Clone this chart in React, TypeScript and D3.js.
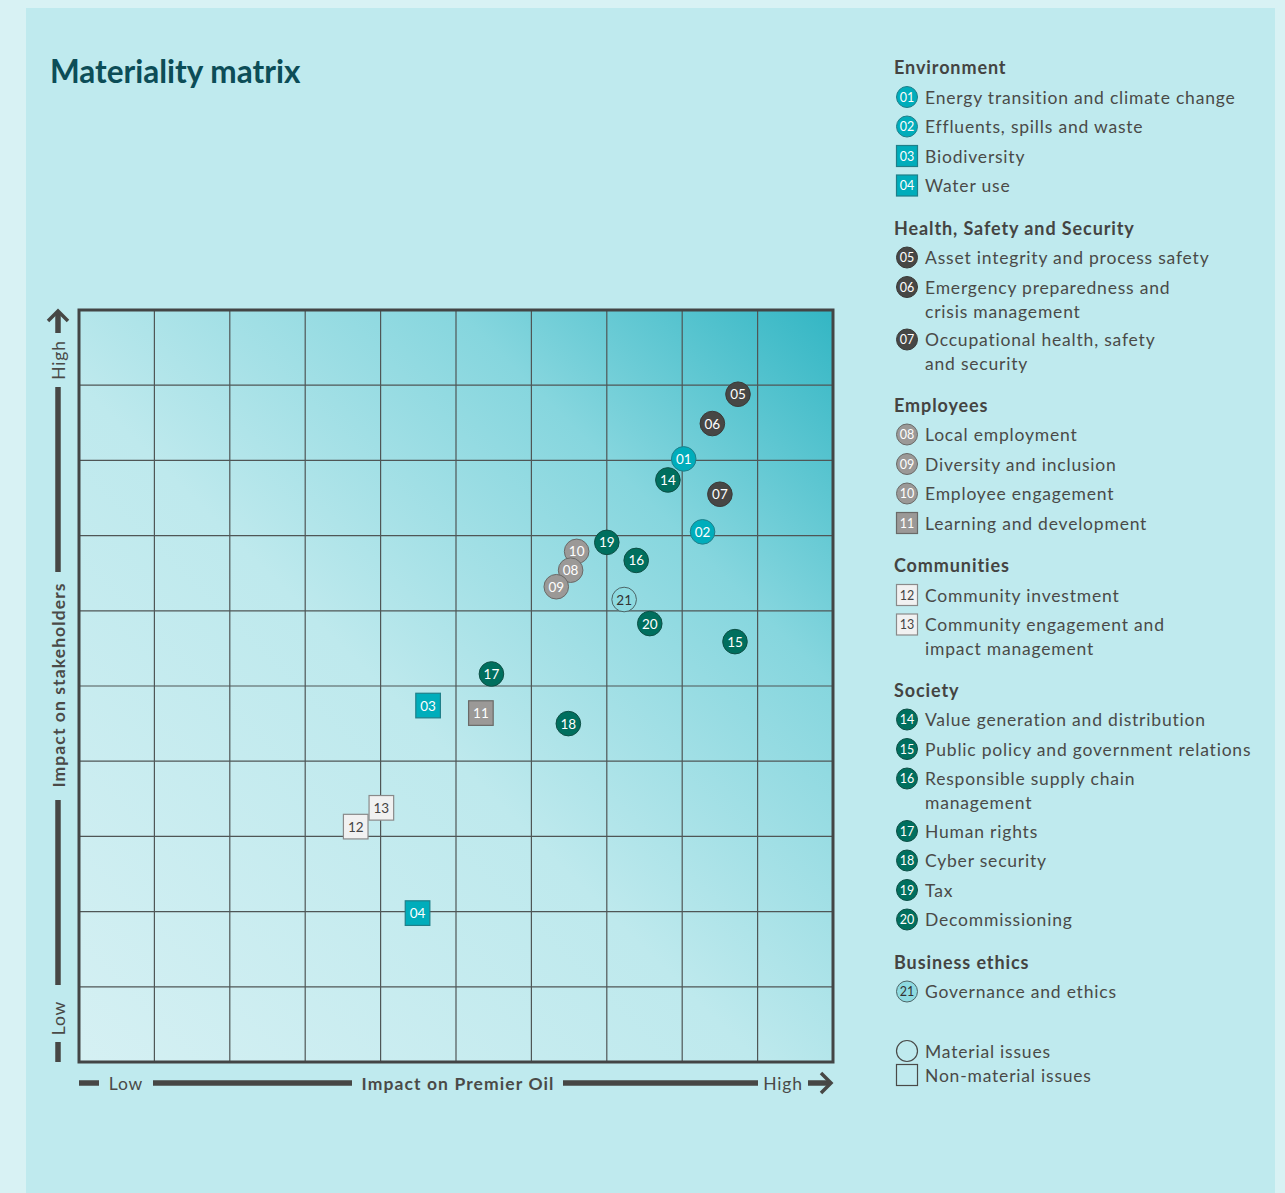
import React, { useEffect, useRef } from "react";
import * as d3 from "d3";

// legend groups
const groupNames = [
  "Environment",
  "Health, Safety and Security",
  "Employees",
  "Communities",
  "Society",
  "Business ethics",
];

const issueIds = [
  "01", "02", "03", "04", "05", "06", "07", "08", "09", "10", "11",
  "12", "13", "14", "15", "16", "17", "18", "19", "20", "21",
];

const issueLabels = [
  ["Energy transition and climate change"],
  ["Effluents, spills and waste"],
  ["Biodiversity"],
  ["Water use"],
  ["Asset integrity and process safety"],
  ["Emergency preparedness and", "crisis management"],
  ["Occupational health, safety", "and security"],
  ["Local employment"],
  ["Diversity and inclusion"],
  ["Employee engagement"],
  ["Learning and development"],
  ["Community investment"],
  ["Community engagement and", "impact management"],
  ["Value generation and distribution"],
  ["Public policy and government relations"],
  ["Responsible supply chain", "management"],
  ["Human rights"],
  ["Cyber security"],
  ["Tax"],
  ["Decommissioning"],
  ["Governance and ethics"],
];

const issueGroup = [0, 0, 0, 0, 1, 1, 1, 2, 2, 2, 2, 3, 3, 4, 4, 4, 4, 4, 4, 4, 5];

// true = material issue (circle), false = non-material (square)
const isMaterial = [
  true, true, false, false, true, true, true, true, true, true, false,
  false, false, true, true, true, true, true, true, true, true,
];

// impact on Premier Oil (x) and on stakeholders (y), 0-10 grid units
const impactPremier = [
  8.02, 8.27, 4.63, 4.49, 8.74, 8.4, 8.5, 6.52, 6.33, 6.6, 5.33,
  3.67, 4.01, 7.81, 8.7, 7.39, 5.47, 6.49, 7.0, 7.57, 7.23,
];
const impactStakeholders = [
  8.02, 7.05, 4.74, 1.98, 8.88, 8.49, 7.55, 6.54, 6.32, 6.79, 4.64,
  3.13, 3.38, 7.74, 5.59, 6.67, 5.16, 4.5, 6.91, 5.83, 6.15,
];

const gridTicks = d3.range(0, 11);

const groupStyle = [
  { fill: "#00adbb", stroke: "#1f7f89", text: "#ffffff" },
  { fill: "#474745", stroke: "#3a3a38", text: "#ffffff" },
  { fill: "#9b9997", stroke: "#6a6a68", text: "#ffffff" },
  { fill: "#f1f1f1", stroke: "#8a8a8a", text: "#444444" },
  { fill: "#006f5e", stroke: "#0d4f45", text: "#ffffff" },
  { fill: "#8edbe1", stroke: "#4c6466", text: "#333333" },
];

const FONT = "Lato, 'Open Sans', sans-serif";

export default function App() {
  const svgRef = useRef<SVGSVGElement | null>(null);

  useEffect(() => {
    const svg = d3.select(svgRef.current);
    svg.selectAll("*").remove();

    const W = 1285;
    const H = 1193;
    const plot = { left: 79, right: 833, top: 310, bottom: 1062 };

    // backgrounds
    svg.append("rect").attr("width", W).attr("height", H).attr("fill", "#d8f2f4");
    svg
      .append("rect")
      .attr("x", 26)
      .attr("y", 8)
      .attr("width", 1249)
      .attr("height", H - 8)
      .attr("fill", "#bfeaee");

    // title
    svg
      .append("text")
      .attr("x", 50)
      .attr("y", 83)
      .attr("font-family", FONT)
      .attr("font-weight", 700)
      .attr("font-size", 31.5)
      .attr("fill", "#0c4d57")
      .text("Materiality matrix");

    const defs = svg.append("defs");
    const grad = defs
      .append("linearGradient")
      .attr("id", "plotGrad")
      .attr("x1", "0%")
      .attr("y1", "100%")
      .attr("x2", "100%")
      .attr("y2", "0%");
    grad.append("stop").attr("offset", "0%").attr("stop-color", "#d5f0f3");
    grad.append("stop").attr("offset", "45%").attr("stop-color", "#bee9ed");
    grad.append("stop").attr("offset", "75%").attr("stop-color", "#86d6de");
    grad.append("stop").attr("offset", "100%").attr("stop-color", "#33b6c4");

    const xScale = d3.scaleLinear().domain([0, 10]).range([plot.left, plot.right]);
    const yScale = d3.scaleLinear().domain([0, 10]).range([plot.bottom, plot.top]);

    svg
      .append("rect")
      .attr("x", plot.left)
      .attr("y", plot.top)
      .attr("width", plot.right - plot.left)
      .attr("height", plot.bottom - plot.top)
      .attr("fill", "url(#plotGrad)");

    // grid
    const grid = svg.append("g").attr("stroke", "#4f5656").attr("stroke-width", 1.2);
    grid
      .selectAll("line.v")
      .data(gridTicks.slice(1, -1))
      .join("line")
      .attr("class", "v")
      .attr("x1", (d) => xScale(d))
      .attr("x2", (d) => xScale(d))
      .attr("y1", plot.top)
      .attr("y2", plot.bottom);
    grid
      .selectAll("line.h")
      .data(gridTicks.slice(1, -1))
      .join("line")
      .attr("class", "h")
      .attr("y1", (d) => yScale(d))
      .attr("y2", (d) => yScale(d))
      .attr("x1", plot.left)
      .attr("x2", plot.right);

    svg
      .append("rect")
      .attr("x", plot.left)
      .attr("y", plot.top)
      .attr("width", plot.right - plot.left)
      .attr("height", plot.bottom - plot.top)
      .attr("fill", "none")
      .attr("stroke", "#434545")
      .attr("stroke-width", 3);

    // axis decorations
    const axisColor = "#474745";
    const ax = svg.append("g");
    const xY = 1083;
    const seg = (x1: number, y1: number, x2: number, y2: number) =>
      ax
        .append("line")
        .attr("x1", x1)
        .attr("y1", y1)
        .attr("x2", x2)
        .attr("y2", y2)
        .attr("stroke", axisColor)
        .attr("stroke-width", 5.5);
    seg(79, xY, 99, xY);
    seg(153, xY, 352, xY);
    seg(563, xY, 758, xY);
    seg(808, xY, 829, xY);
    ax.append("path")
      .attr("d", `M821,${xY - 10} L831,${xY} L821,${xY + 10}`)
      .attr("fill", "none")
      .attr("stroke", axisColor)
      .attr("stroke-width", 3.5);

    const yX = 58;
    seg(yX, 1062, yX, 1042);
    seg(yX, 985, yX, 800);
    seg(yX, 572, yX, 387);
    seg(yX, 333, yX, 313);
    ax.append("path")
      .attr("d", `M${yX - 10},${321} L${yX},${311} L${yX + 10},${321}`)
      .attr("fill", "none")
      .attr("stroke", axisColor)
      .attr("stroke-width", 3.5);

    const axText = (x: number, y: number, t: string, bold: boolean, rot = false) =>
      ax
        .append("text")
        .attr("transform", `translate(${x},${y})${rot ? " rotate(-90)" : ""}`)
        .attr("text-anchor", "middle")
        .attr("dominant-baseline", "central")
        .attr("font-family", FONT)
        .attr("font-size", 17.5)
        .attr("letter-spacing", bold ? 1.1 : 0.8)
        .attr("font-weight", bold ? 700 : 400)
        .attr("fill", "#4a4a48")
        .text(t);
    axText(126, xY, "Low", false);
    axText(458, xY, "Impact on Premier Oil", true);
    axText(783, xY, "High", false);
    axText(yX, 1018, "Low", false, true);
    axText(yX, 685, "Impact on stakeholders", true, true);
    axText(yX, 360, "High", false, true);

    // markers
    const order = d3.range(issueIds.length).sort(
      (a, b) => impactStakeholders[b] - impactStakeholders[a]
    );
    const marks = svg
      .append("g")
      .selectAll("g")
      .data(order)
      .join("g")
      .attr("transform", (i) => `translate(${xScale(impactPremier[i])},${yScale(impactStakeholders[i])})`);

    const drawIcon = (
      g: d3.Selection<SVGGElement, number, any, any>,
      r: number,
      fontSize: number
    ) => {
      g.each(function (i) {
        const el = d3.select(this);
        const st = groupStyle[issueGroup[i]];
        if (isMaterial[i]) {
          el.append("circle")
            .attr("r", r)
            .attr("fill", st.fill)
            .attr("stroke", st.stroke)
            .attr("stroke-width", 1);
        } else {
          el.append("rect")
            .attr("x", -r)
            .attr("y", -r)
            .attr("width", 2 * r)
            .attr("height", 2 * r)
            .attr("fill", st.fill)
            .attr("stroke", st.stroke)
            .attr("stroke-width", 1.2);
        }
        el.append("text")
          .attr("text-anchor", "middle")
          .attr("dominant-baseline", "central")
          .attr("font-family", FONT)
          .attr("font-size", fontSize)
          .attr("fill", st.text)
          .text(issueIds[i]);
      });
    };
    drawIcon(marks as any, 12.3, 13.5);

    // legend
    const legend = svg.append("g");
    const lx = 907;
    let y = 67;
    groupNames.forEach((name, gi) => {
      legend
        .append("text")
        .attr("x", 894)
        .attr("y", y)
        .attr("dominant-baseline", "central")
        .attr("font-family", FONT)
        .attr("font-weight", 700)
        .attr("font-size", 18)
        .attr("letter-spacing", 0.9)
        .attr("fill", "#444442")
        .text(name);
      y += 30;
      const items = d3.range(issueIds.length).filter((i) => issueGroup[i] === gi);
      items.forEach((i) => {
        const item = legend.append("g").datum(i).attr("transform", `translate(${lx},${y})`);
        drawIcon(item as any, 10.5, 12.5);
        issueLabels[i].forEach((line, li) => {
          legend
            .append("text")
            .attr("x", 925)
            .attr("y", y + li * 24)
            .attr("dominant-baseline", "central")
            .attr("font-family", FONT)
            .attr("font-size", 17.5)
            .attr("letter-spacing", 0.8)
            .attr("fill", "#4a4a48")
            .text(line);
        });
        y += 29.5 + (issueLabels[i].length - 1) * 23;
      });
      y += 12.5;
    });

    // shape key
    const keyY = [1051, 1075];
    const keyText = ["Material issues", "Non-material issues"];
    legend
      .append("circle")
      .attr("cx", lx)
      .attr("cy", keyY[0])
      .attr("r", 10.5)
      .attr("fill", "none")
      .attr("stroke", "#4a4a48")
      .attr("stroke-width", 1.2);
    legend
      .append("rect")
      .attr("x", lx - 10.5)
      .attr("y", keyY[1] - 10.5)
      .attr("width", 21)
      .attr("height", 21)
      .attr("fill", "none")
      .attr("stroke", "#4a4a48")
      .attr("stroke-width", 1.2);
    keyText.forEach((t, k) =>
      legend
        .append("text")
        .attr("x", 925)
        .attr("y", keyY[k])
        .attr("dominant-baseline", "central")
        .attr("font-family", FONT)
        .attr("font-size", 17.5)
        .attr("letter-spacing", 0.8)
        .attr("fill", "#4a4a48")
        .text(t)
    );
  }, []);

  return (
    <div style={{ position: "absolute", left: 0, top: 0, width: 1285, height: 1193 }}>
      <svg ref={svgRef} width={1285} height={1193} style={{ display: "block" }} />
    </div>
  );
}
